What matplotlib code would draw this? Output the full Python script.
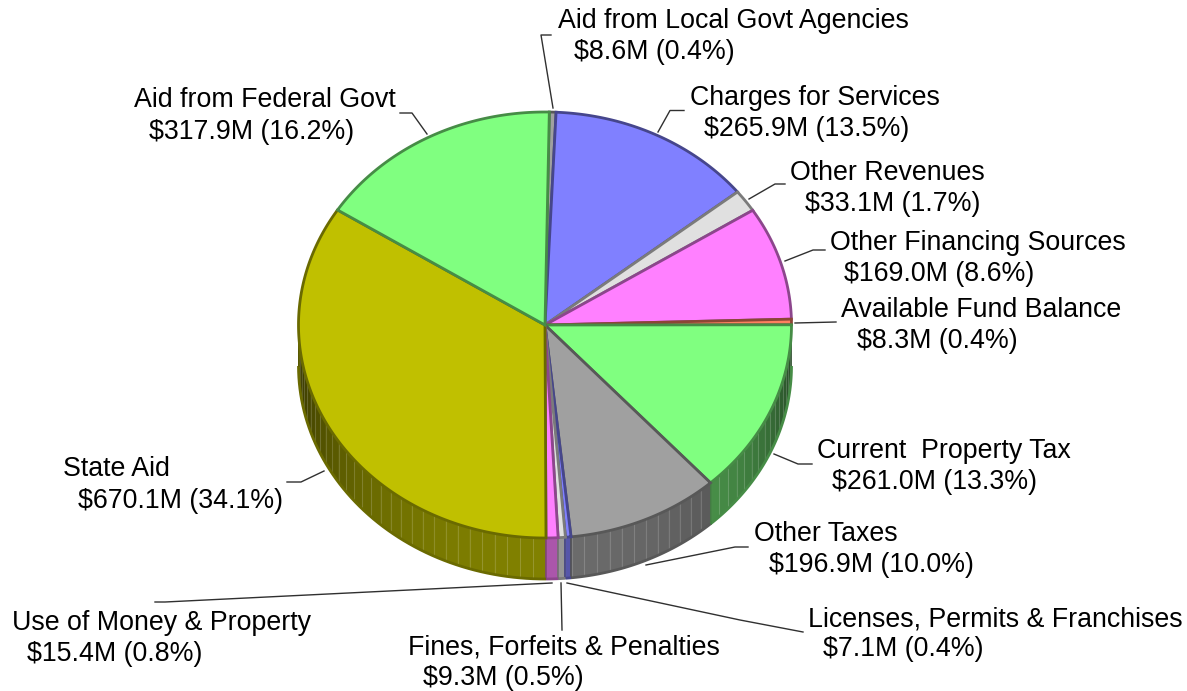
import numpy as np
import matplotlib
matplotlib.use("Agg")
import matplotlib.pyplot as plt
from matplotlib.colors import to_rgb
from matplotlib.patches import Polygon

# clockwise from the top of the pie
names = ["Aid from Local Govt Agencies", "Charges for Services", "Other Revenues",
         "Other Financing Sources", "Available Fund Balance", "Current  Property Tax",
         "Other Taxes", "Licenses, Permits & Franchises", "Fines, Forfeits & Penalties",
         "Use of Money & Property", "State Aid", "Aid from Federal Govt"]
amounts = [8.6, 265.9, 33.1, 169.0, 8.3, 261.0, 196.9, 7.1, 9.3, 15.4, 670.1, 317.9]
percents = ["0.4", "13.5", "1.7", "8.6", "0.4", "13.3", "10.0", "0.4", "0.5", "0.8", "34.1", "16.2"]
colors = ["#a0a0a0", "#8080ff", "#e0e0e0", "#ff80ff", "#ff8060", "#80ff80",
          "#a0a0a0", "#8080ff", "#e0e0e0", "#ff80ff", "#c0c000", "#80ff80"]

# label placement in pixels: first line x, second line x, first baseline, second baseline
label_x1 = [558, 690, 790, 830, 841, 817, 754, 808, 408, 12, 63, 134]
label_x2 = [574, 704, 805, 844, 857, 832, 769, 823, 423, 27, 78, 149]
label_y1 = [28, 105, 180, 250, 317, 458, 541, 626, 655, 630, 476, 107]
label_y2 = [59, 136, 211, 281, 348, 489, 572, 656, 685, 661, 508, 139]

# leader lines in pixels
leaders = [[(553, 108), (541, 35), (551, 35)],
           [(658, 132), (670, 110.5), (684, 110.5)],
           [(749, 199), (775, 184), (785, 184)],
           [(785, 261), (813, 250), (825, 250)],
           [(795, 323), (836, 322)],
           [(774, 454), (798, 464), (812, 464)],
           [(646, 565), (735, 547), (748, 547)],
           [(567, 583), (740, 620), (803, 632)],
           [(561, 583), (562, 630)],
           [(552, 583), (165, 602), (155, 602)],
           [(324, 471), (301, 482), (287, 482)],
           [(427, 134), (412, 113), (400, 113)]]

CX, CY = 545, 325
RX, RY = 246.5, 213
DEPTH = 41
START = 1.0


def rim(theta):
    t = np.radians(theta)
    return CX + RX * np.sin(t), CY - RY * np.cos(t)


fig = plt.figure(figsize=(11.87, 6.91), dpi=100)
ax = fig.add_axes([0, 0, 1, 1])
ax.set_xlim(0, 1187)
ax.set_ylim(691, 0)
ax.axis("off")

fracs = np.array(amounts) / sum(amounts) * 360
ends = START + np.cumsum(fracs)
begins = ends - fracs

# side wall first
for i in range(len(names)):
    a = max(begins[i], 90)
    b = min(ends[i], 270)
    if a >= b:
        continue
    base = np.array(to_rgb(colors[i]))
    edges = np.append(np.arange(a, b, 3.0), b)
    for t0, t1 in zip(edges[:-1], edges[1:]):
        mid = (t0 + t1) / 2
        shade = 0.25 + 0.42 * -np.cos(np.radians(mid))
        tt = np.linspace(t0, t1, 4)
        x, y = rim(tt)
        pts = list(zip(x, y)) + list(zip(x[::-1], y[::-1] + DEPTH))
        # small overlap so no seams show between strips
        ax.add_patch(Polygon(pts, closed=True, fc=base * shade, ec=base * shade, lw=0.5, zorder=2))
        x0, y0 = rim(t0)
        ax.plot([x0, x0], [y0, y0 + DEPTH], color="white", alpha=0.16, lw=0.8, zorder=3)
    tt = np.linspace(a, b, 60)
    x, y = rim(tt)
    ax.plot(x, y + DEPTH, color=base * 0.55, lw=2, zorder=4, solid_capstyle="butt")
    x1, y1 = rim(b)
    ax.plot([x1, x1], [y1, y1 + DEPTH], color=base * 0.5, lw=1.2, zorder=4)

# top face
for i in range(len(names)):
    base = np.array(to_rgb(colors[i]))
    tt = np.linspace(begins[i], ends[i], max(int(fracs[i] * 2), 4))
    x, y = rim(tt)
    pts = [(CX, CY)] + list(zip(x, y))
    ax.add_patch(Polygon(pts, closed=True, fc=base, ec=base * 0.55, lw=2, joinstyle="miter", zorder=5 + i * 0.01))

for line in leaders:
    xs = [p[0] for p in line]
    ys = [p[1] for p in line]
    ax.plot(xs, ys, color="#303030", lw=1.0, zorder=6)

for i in range(len(names)):
    ax.text(label_x1[i], label_y1[i], names[i], family="Liberation Sans", fontsize=19.3,
            color="black", va="baseline", ha="left", zorder=7)
    ax.text(label_x2[i], label_y2[i], f"${amounts[i]:.1f}M ({percents[i]}%)", family="Liberation Sans",
            fontsize=19.3, color="black", va="baseline", ha="left", zorder=7)

fig.savefig("out.png", dpi=100, facecolor="white")
